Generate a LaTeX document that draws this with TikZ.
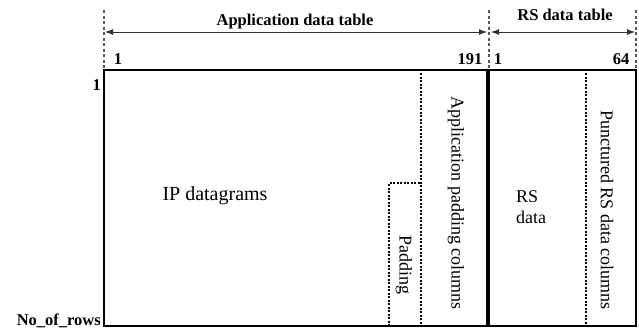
\documentclass[tikz,border=0pt]{standalone}
\usepackage{fontspec}
\setmainfont{Liberation Serif}
\usetikzlibrary{arrows.meta}
\begin{document}
\begin{tikzpicture}[x=1pt,y=-1pt,
  lbl/.style={font=\fontsize{16.5}{19}\selectfont\bfseries, inner sep=0pt},
  txt/.style={font=\fontsize{18}{21}\selectfont, inner sep=0pt},
  guide/.style={draw=black!65, line width=1.3pt, dash pattern=on 3pt off 2.5pt},
  dots/.style={draw=black, line width=2.4pt, dash pattern=on 2pt off 1.5pt},
  dim/.style={draw=black!80, line width=0.9pt, {Latex[length=8pt,width=6pt]}-{Latex[length=8pt,width=6pt]}},
  frame/.style={draw=black, line width=2pt}]
\useasboundingbox (0,0) rectangle (639,330);
% corners
\coordinate (tl) at (104,70);
\coordinate (tr) at (636,70);
\coordinate (bl) at (104,326);
\coordinate (br) at (636,326);
\coordinate (mt) at (488,70);
\coordinate (mb) at (488,326);
% guide tops
\coordinate (gl) at (104,10);
\coordinate (gm) at (489,10);
\coordinate (gmb) at (489,70);
\coordinate (gr) at (636,10);
% arrow ends
\coordinate (a1) at (105,32);
\coordinate (a2) at (487,32);
\coordinate (a3) at (491,32);
\coordinate (a4) at (635,32);
% guides
\draw[guide] (gl) -- (tl);
\draw[guide] (gm) -- (gmb);
\draw[guide] (gr) -- (tr);
% dimension arrows
\draw[dim] (a1) -- (a2);
\draw[dim] (a3) -- (a4);
\node[lbl, anchor=base] (adt) at (295,25) {Application data table};
\node[lbl, anchor=base] (rsdt) at (565,20) {RS data table};
% column numbers
\node[lbl, anchor=base] (c1) at (118,64) {1};
\node[lbl, anchor=base] (c191) at (470,64) {191};
\node[lbl, anchor=base] (r1) at (498,64) {1};
\node[lbl, anchor=base] (r64) at (621,64) {64};
% row labels
\node[lbl, anchor=base east] (row1) at (101,90) {1};
\node[lbl, anchor=base east] (rown) at (101,325) {No\_of\_rows};
% padding regions
\coordinate (pt) at (421,73);
\coordinate (pb) at (421,326);
\coordinate (pbl) at (389,326);
\coordinate (ptl) at (389,183);
\coordinate (ptr) at (421,183);
\draw[dots] (pt) -- (pb);
\draw[dots] (pbl) -- (ptl) -- (ptr);
\coordinate (qt) at (586,73);
\coordinate (qb) at (586,326);
\draw[dots] (qt) -- (qb);
% frame
\draw[frame] (tl) rectangle (br);
\draw[draw=black, line width=4pt] (mt) -- (mb);
% texts
\node[txt, anchor=base, font=\fontsize{20}{24}\selectfont] (ip) at (215,200) {IP datagrams};
\node[txt, rotate=-90] (apc) at (456,203) {Application padding columns};
\node[txt, rotate=-90] (pad) at (404,265) {Padding};
\node[txt, anchor=base west] (rs) at (516,202) {RS};
\node[txt, anchor=base west] (rsd) at (516,223) {data};
\node[txt, rotate=-90] (prs) at (607,210) {Punctured RS data columns};
\end{tikzpicture}
\end{document}
